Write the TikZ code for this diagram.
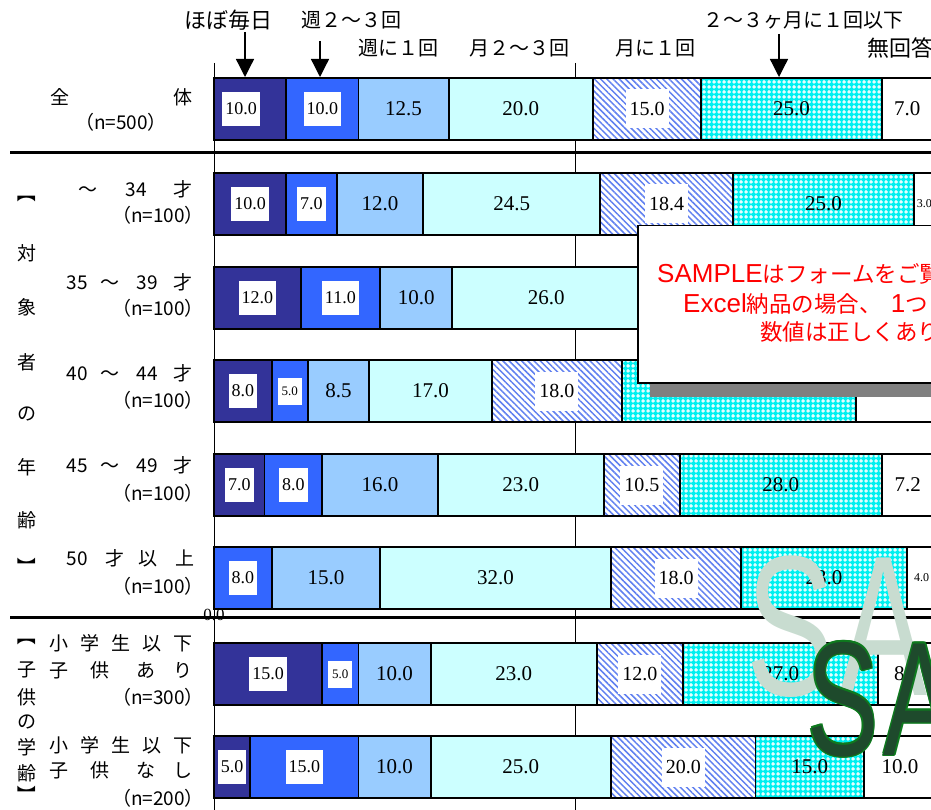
\documentclass[tikz,border=0pt]{standalone}
\usepackage{fontspec}
\setmainfont{Liberation Serif}
\newfontfamily\jp{Noto Sans CJK JP}
\newfontfamily\lsans{Liberation Sans}
\usetikzlibrary{patterns,patterns.meta,arrows.meta}

\definecolor{c1}{HTML}{333399}
\definecolor{c2}{HTML}{3366FF}
\definecolor{c3}{HTML}{99CCFF}
\definecolor{c4}{HTML}{CCFFFF}
\definecolor{c5}{HTML}{6080F0}
\definecolor{c6}{HTML}{00F0F0}
\definecolor{wmlight}{HTML}{C8DCD0}
\definecolor{wmdark}{HTML}{1E4A2C}
\definecolor{wmedge}{HTML}{0E7A1E}
\definecolor{shadowgray}{HTML}{808080}
\definecolor{sred}{HTML}{FF0000}

\pgfdeclarepatternformonly{cyancross}{\pgfqpoint{0pt}{0pt}}{\pgfqpoint{4.5pt}{4.5pt}}{\pgfqpoint{4.5pt}{4.5pt}}{%
  \pgfpathrectangle{\pgfqpoint{1.5pt}{0.3pt}}{\pgfqpoint{1.5pt}{3.9pt}}%
  \pgfpathrectangle{\pgfqpoint{0.3pt}{1.5pt}}{\pgfqpoint{3.9pt}{1.5pt}}%
  \pgfusepath{fill}}

\def\nolab{no}
\newcommand{\drawbar}[3]{%
  \gdef\cumv{0}%
  \foreach \segv/\segf/\segl [count=\i] in {#3}{%
    \pgfmathsetmacro{\segx}{214+7.22*\cumv}%
    \pgfmathsetmacro{\segw}{7.22*\segv}%
    \edef\tmpcmd{\noexpand\node[seg,\segf,minimum width=\segw pt] (#1s\i) at (\segx,#2) {};}%
    \tmpcmd
    \edef\tmpl{\segl}%
    \ifx\tmpl\nolab\else
      \edef\tmpcmd{\noexpand\node[\segl] (#1l\i) at (#1s\i.center) {\segv};}%
      \tmpcmd
    \fi
    \pgfmathsetmacro{\newc}{\cumv+\segv}%
    \xdef\cumv{\newc}%
  }%
}

\begin{document}
\begin{tikzpicture}[x=1pt,y=-1pt,
  seg/.style={draw=black,line width=1.8pt,minimum height=62pt,inner sep=0pt,outer sep=0pt,anchor=north west},
  f1/.style={fill=c1},
  f2/.style={fill=c2},
  f3/.style={fill=c3},
  f4/.style={fill=c4},
  f5/.style={preaction={fill=white},pattern={Lines[angle=-45,distance=4.4pt,line width=1.5pt]},pattern color=c5},
  f6/.style={preaction={fill=c6},pattern=cyancross,pattern color=white},
  f7/.style={fill=white},
  bx/.style={fill=white,inner xsep=3pt,inner ysep=0pt,minimum height=34pt,font=\fontsize{18}{18}\selectfont},
  bxl/.style={bx,xshift=-9pt},
  bxs/.style={fill=white,inner xsep=4pt,inner ysep=0pt,minimum height=27pt,font=\fontsize{13}{13}\selectfont},
  hx/.style={fill=white,inner xsep=4pt,inner ysep=0pt,minimum height=39pt,font=\fontsize{20}{20}\selectfont},
  pl/.style={inner sep=0pt,font=\fontsize{21}{21}\selectfont},
  pls/.style={inner sep=0pt,font=\fontsize{12}{12}\selectfont},
  hd/.style={inner sep=0pt,font=\jp\fontsize{20}{24}\selectfont},
  hdl/.style={inner sep=0pt,font=\jp\fontsize{22}{24}\selectfont},
  jl/.style={inner sep=0pt,font=\jp\fontsize{19}{22}\selectfont},
  arr/.style={line width=1.3pt,-{Triangle[width=18pt,length=18pt]}},
  thickrule/.style={line width=3pt},
  thinline/.style={line width=0.8pt},
  stx/.style={anchor=base west,inner sep=0pt,text=sred}
]
\useasboundingbox (0,0) rectangle (931,810);

% axis and 50% line
\coordinate (axt) at (214,63); \coordinate (axb) at (214,810);
\coordinate (gt) at (575,63); \coordinate (gb) at (575,810);
\draw[thinline] (axt) -- (axb);
\draw[thinline] (gt) -- (gb);

% bars
\drawbar{ra}{78}{10.0/f1/bxl,10.0/f2/bx,12.5/f3/pl,20.0/f4/pl,15.0/f5/hx,25.0/f6/pl,7.0/f7/pl}
\drawbar{rb}{173}{10.0/f1/bx,7.0/f2/bx,12.0/f3/pl,24.5/f4/pl,18.4/f5/hx,25.0/f6/pl,3.0/f7/pls}
\drawbar{rc}{267}{12.0/f1/bx,11.0/f2/bx,10.0/f3/pl,26.0/f4/pl,15.0/f5/no,20.0/f6/no,6.0/f7/no}
\drawbar{rd}{360}{8.0/f1/bx,5.0/f2/bxs,8.5/f3/pl,17.0/f4/pl,18.0/f5/hx,32.4/f6/no,11.1/f7/no}
\drawbar{re}{454}{7.0/f1/bx,8.0/f2/bx,16.0/f3/pl,23.0/f4/pl,10.5/f5/hx,28.0/f6/pl,7.2/f7/pl}
\drawbar{rf}{547}{8.0/f2/bx,15.0/f3/pl,32.0/f4/pl,18.0/f5/hx,23.0/f6/pl,4.0/f7/pls}
\drawbar{rg}{643}{15.0/f1/bx,5.0/f2/bxs,10.0/f3/pl,23.0/f4/pl,12.0/f5/hx,27.0/f6/pl,8.0/f7/pl}
\drawbar{rh}{736}{5.0/f1/bx,15.0/f2/bx,10.0/f3/pl,25.0/f4/pl,20.0/f5/hx,15.0/f6/pl,10.0/f7/pl}

% horizontal rules
\coordinate (ru1a) at (10,153); \coordinate (ru1b) at (931,153);
\coordinate (ru2a) at (10,617); \coordinate (ru2b) at (931,617);
\draw[thickrule] (ru1a) -- (ru1b);
\draw[thickrule] (ru2a) -- (ru2b);
\node[inner sep=0pt,font=\fontsize{17}{17}\selectfont] (zero) at (214,615) {0.0};

% header labels
\node[hdl] (h1) at (228,20) {ほぼ毎日};
\node[hd] (h2) at (351,20) {週２～３回};
\node[hd] (h3) at (398,48) {週に１回};
\node[hd] (h4) at (519,48) {月２～３回};
\node[hd] (h5) at (655,48) {月に１回};
\node[hd] (h6) at (803,20) {２～３ヶ月に１回以下};
\node[hdl,anchor=west] (h7) at (867,48) {無回答};

% arrows
\coordinate (a1s) at (245,32); \coordinate (a1e) at (245,77);
\coordinate (a2s) at (320,41); \coordinate (a2e) at (320,77);
\coordinate (a3s) at (779,34); \coordinate (a3e) at (779,77);
\draw[arr] (a1s) -- (a1e);
\draw[arr] (a2s) -- (a2e);
\draw[arr] (a3s) -- (a3e);

% row labels
\node[jl] (la1) at (60,97) {全};
\node[jl] (la2) at (183,97) {体};
\node[jl,anchor=east] (la3) at (167,122) {（n=500）};
\node[jl,anchor=east] (lb1) at (192.5,189) {～\hspace{28.5pt}34\hspace{26.5pt}才};
\node[jl,anchor=east] (lb2) at (204,215) {（n=100）};
\node[jl,anchor=east] (lc1) at (192.5,282) {35\hspace{12.5pt}～\hspace{17.5pt}39\hspace{15.5pt}才};
\node[jl,anchor=east] (lc2) at (204,308) {（n=100）};
\node[jl,anchor=east] (ld1) at (192.5,373) {40\hspace{12.5pt}～\hspace{17.5pt}44\hspace{15.5pt}才};
\node[jl,anchor=east] (ld2) at (204,400) {（n=100）};
\node[jl,anchor=east] (le1) at (192.5,465) {45\hspace{12.5pt}～\hspace{17.5pt}49\hspace{15.5pt}才};
\node[jl,anchor=east] (le2) at (204,493) {（n=100）};
\node[jl,anchor=east] (lf1) at (194.5,558) {50\hspace{17.5pt}才\hspace{14pt}以\hspace{18pt}上};
\node[jl,anchor=east] (lf2) at (204,586) {（n=100）};
\node[jl,anchor=west] (lg1) at (49.5,643) {小\hspace{12pt}学\hspace{12pt}生\hspace{12pt}以\hspace{12pt}下};
\node[jl,anchor=west] (lg2) at (49.5,670) {子\hspace{22pt}供\hspace{27pt}あ\hspace{18pt}り};
\node[jl,anchor=east] (lg3) at (204,697) {（n=300）};
\node[jl,anchor=west] (lh1) at (49.5,745) {小\hspace{12pt}学\hspace{12pt}生\hspace{12pt}以\hspace{12pt}下};
\node[jl,anchor=west] (lh2) at (49.5,770) {子\hspace{22pt}供\hspace{27pt}な\hspace{18pt}し};
\node[jl,anchor=east] (lh3) at (204,798) {（n=200）};

% vertical group labels
\node[jl,rotate=-90] (va0) at (27,193) {【};
\node[jl] (va1) at (27,253) {対};
\node[jl] (va2) at (27,307) {象};
\node[jl] (va3) at (27,362) {者};
\node[jl] (va4) at (27,414) {の};
\node[jl] (va5) at (27,467) {年};
\node[jl] (va6) at (27,520) {齢};
\node[jl,rotate=-90] (va7) at (27,567) {】};
\node[jl,rotate=-90] (vb0) at (27,636) {【};
\node[jl] (vb1) at (27,670) {子};
\node[jl] (vb2) at (27,697) {供};
\node[jl] (vb3) at (27,722) {の};
\node[jl] (vb4) at (27,747) {学};
\node[jl] (vb5) at (27,773) {齢};
\node[jl,rotate=-90] (vb6) at (27,795) {】};

% SAMPLE notice box
\node[fill=shadowgray,minimum width=320pt,minimum height=157pt,anchor=north west,inner sep=0pt] (shd) at (650,240) {};
\node[draw=black,line width=1.5pt,fill=white,minimum width=320pt,minimum height=157pt,anchor=north west,inner sep=0pt] (smp) at (637,225) {};
\node[stx] (st1) at (657,283) {{\lsans\fontsize{26}{26}\selectfont SAMPLE}{\jp\fontsize{22.5}{22.5}\selectfont はフォームをご覧}};
\node[stx] (st2) at (683,312) {{\lsans\fontsize{26}{26}\selectfont Excel}{\jp\fontsize{22.5}{22.5}\selectfont 納品の場合、}\hspace{9pt}{\lsans\fontsize{26}{26}\selectfont 1}{\jp\fontsize{22.5}{22.5}\selectfont つ}};
\node[stx] (st3) at (760,340) {{\jp\fontsize{22.5}{22.5}\selectfont 数値は正しくあり}};

% watermarks
\node[anchor=base west,inner sep=0pt,text=wmlight,font=\lsans\fontsize{200}{200}\selectfont] (wm1) at (746,695) {\scalebox{0.66}[1]{S\hspace{8pt}A}};
\foreach \dx/\dy [count=\k] in {1.5/0,-1.5/0,0/1.5,0/-1.5,1.1/1.1,-1.1/1.1,1.1/-1.1,-1.1/-1.1}{
  \node[anchor=base west,inner sep=0pt,text=wmedge,font=\lsans\fontsize{162}{162}\selectfont] (wme\k) at (807+\dx,755+\dy) {\scalebox{0.66}[1]{S\hspace{8pt}A}};
}
\node[anchor=base west,inner sep=0pt,text=wmdark,font=\lsans\fontsize{162}{162}\selectfont] (wm2) at (807,755) {\scalebox{0.66}[1]{S\hspace{8pt}A}};
\end{tikzpicture}
\end{document}
